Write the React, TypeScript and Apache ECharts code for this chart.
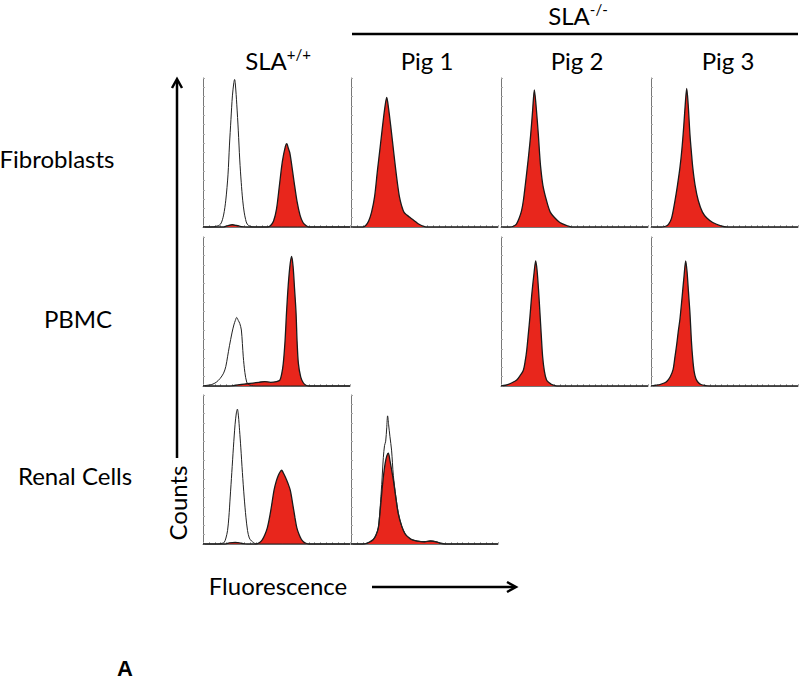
import React, { useEffect, useRef } from "react";
import * as echarts from "echarts";

// Row / column labels
const rowLabels = ["Fibroblasts", "PBMC", "Renal Cells"];
const colLabels = ["SLA+/+", "Pig 1", "Pig 2", "Pig 3"];
const groupLabel = "SLA-/-";
const yAxisTitle = "Counts";
const xAxisTitle = "Fluorescence";
const panelTag = "A";

// Histograms: [relative fluorescence channel (0-100), relative counts (0-100)]
const fibSlaIso = [[0,0],[5,0],[9,0.5],[12,2],[14,8],[15.5,18],[17,35],[18,55],[19,72],[20,88],[21,97],[21.5,99],[22,96],[23,82],[24,65],[25,45],[26,30],[27,18],[28,10],[29,5],[30,2],[32,0.5],[35,0],[100,0]];
const fibSlaStain = [[0,0],[14,0],[17,1],[20,1.5],[23,1],[26,0.3],[30,0],[44,0],[46,1],[48,4],[50,12],[52,28],[54,44],[56,54],[57,56],[58,53],[59,50],[60,44],[62,30],[64,17],[66,8],[68,3],[70,1],[72,0],[100,0]];
const fibPig1Stain = [[0,0],[8,0],[10,1],[12,4],[14,10],[16,20],[18,38],[20,55],[21.5,68],[23,80],[24.3,87],[25.5,80],[27,68],[28.5,55],[30,42],[31.5,30],[33,20],[34.5,14],[36,10],[38,8],[40,6.5],[42,5],[44,3.5],[46,2],[48,1],[51,0],[100,0]];
const fibPig2Stain = [[0,0],[6,0],[8.5,0.5],[10.5,2],[12.4,6],[14,11],[15.2,17.6],[16.5,28],[17.9,40],[19,50],[20.2,62],[21.5,78],[22.7,92],[23.8,82],[25.4,62],[26.2,50],[27,40],[28.5,28],[31,17.6],[33.5,10],[36.7,6],[40,3],[44.7,1],[48,0],[100,0]];
const fibPig3Stain = [[0,0],[7,0],[10,0.5],[12,2],[14,6],[16.3,17.6],[18,28],[19.7,40],[21,52],[22.3,68],[23.5,85],[24.3,93],[25.3,82],[26.5,62],[27.5,50],[28.4,40],[30,28],[32.2,17.6],[35,10],[38,6],[42,3],[47,1],[52,0],[100,0]];

const pbmcSlaIso = [[0,0],[3,0.5],[6,1],[9,2.5],[11.6,5],[14,8.6],[15.5,13],[16.7,19.6],[18,27],[19.7,35.6],[21,41],[22,44],[22.9,46],[24,44],[25,42],[26.1,37.6],[27.4,19.6],[28.5,9],[29.7,2.7],[31,1],[33,0.3],[36,0],[100,0]];
const pbmcSlaStain = [[0,0],[18,0],[22,0.5],[26,1],[30,1.5],[34,2],[38,2.5],[42,3],[46,2.5],[50,3],[52.3,4],[53.5,8],[54.6,15],[55.8,30],[56.8,49],[58,68],[59.3,82],[60.3,87],[61.3,80],[62.3,65],[63.3,49],[64,30],[64.9,15],[66.5,6],[68.3,2],[70,0.5],[72,0],[100,0]];
const pbmcPig2Stain = [[0,0],[3,0.5],[6,1.5],[9,3],[10.7,4],[13,7],[15.2,10.6],[16.5,17],[17.5,24],[18.6,35],[19.7,46.6],[21,62],[22.5,76],[23.6,84],[24.5,78],[25.5,65],[26.5,49],[27.4,34],[28.3,20],[29.5,10],[31,4],[33,2],[34.5,1],[38,0],[100,0]];
const pbmcPig3Stain = [[0,0],[3,0.5],[6,1],[9,2],[10.7,3],[13,6],[15,11],[16.3,19.6],[17.5,28],[18.6,37],[19.7,45],[21,58],[22.5,74],[23.6,84],[24.5,77],[25.5,63],[26.5,49],[27.5,30],[28.4,18],[29.3,10],[30.5,5],[32,2.5],[34,1],[37,0.3],[40,0],[100,0]];

const renalSlaIso = [[0,0],[10,0],[13,0.5],[14.4,1],[15.6,4],[16.7,9],[17.6,18],[18.5,31.5],[19.6,48],[20.7,65],[21.8,80],[22.7,88],[23.4,90.5],[24.1,86],[24.9,76],[25.7,65],[26.8,48],[28,31.5],[29.2,18],[30.3,9],[31.5,4],[33,2],[34.4,1],[36,0],[100,0]];
const renalSlaStain = [[0,0],[15,0],[18,0.8],[22,1],[26,0.5],[30,0],[36,0],[38.5,1],[40.4,3],[42,6],[43.8,11],[45.5,19],[47,28],[48.3,36],[49.8,42],[51.2,46],[52.5,48.5],[53.5,49.5],[54.5,48],[56,45],[57.7,41],[59.4,36],[61,27],[62.5,18],[63.8,11],[65.5,6],[67,3],[68.3,1.5],[70,0.5],[72,0],[100,0]];
const renalPig1Iso = [[0,0],[8,0],[10.7,0.5],[13,1.5],[15.2,3],[17,6],[18.6,11],[19.8,24],[20.9,40],[22,58],[22.8,66],[23.6,69],[24.3,78],[24.9,86],[25.6,80],[26.5,72],[27.6,63],[28.8,46],[30.5,32],[32.2,21],[34.5,12],[36.7,7],[39,4.5],[41.3,3],[45,2],[50,1.5],[54,2],[58,1.5],[61,0.5],[64,0],[100,0]];
const renalPig1Stain = [[0,0],[8,0],[10.7,0.5],[13,1.5],[15.2,3],[17,6],[18.6,11],[19.8,22],[20.9,34],[22,45],[23.2,54],[24.3,59],[25.4,61],[26.5,56],[27.6,50],[28.8,43],[30.5,31],[32.2,20],[34.5,12],[36.7,7],[39,4.5],[41.3,3],[45,2],[50,1.5],[54,2],[58,1.5],[61,0.5],[64,0],[100,0]];

type Panel = { row: number; col: number; stain: number[][]; iso?: number[][] };
const panels: Panel[] = [
  { row: 0, col: 0, stain: fibSlaStain, iso: fibSlaIso },
  { row: 0, col: 1, stain: fibPig1Stain },
  { row: 0, col: 2, stain: fibPig2Stain },
  { row: 0, col: 3, stain: fibPig3Stain },
  { row: 1, col: 0, stain: pbmcSlaStain, iso: pbmcSlaIso },
  { row: 1, col: 2, stain: pbmcPig2Stain },
  { row: 1, col: 3, stain: pbmcPig3Stain },
  { row: 2, col: 0, stain: renalSlaStain, iso: renalSlaIso },
  { row: 2, col: 1, stain: renalPig1Stain, iso: renalPig1Iso },
];

const COL_X = [203, 351, 501, 651];
const ROW_Y = [78, 237, 395];
const PW = 147;
const PH = 149;
const FONT = "Lato, 'Open Sans', sans-serif";
const FS = 24;
const RED = "#e8261c";

export default function App() {
  const ref = useRef<HTMLDivElement>(null);
  useEffect(() => {
    if (!ref.current) return;
    const chart = echarts.init(ref.current, undefined, { renderer: "svg" });
    const grids: any[] = [];
    const xAxes: any[] = [];
    const yAxes: any[] = [];
    const series: any[] = [];
    panels.forEach((p, i) => {
      grids.push({ left: COL_X[p.col], top: ROW_Y[p.row], width: PW, height: PH });
      xAxes.push({
        type: "value", gridIndex: i, min: 0, max: 100, interval: 4,
        axisLine: { show: true, lineStyle: { color: "#777", width: 1 } },
        axisTick: { show: true, inside: true, length: 2, lineStyle: { color: "#aaa" } },
        axisLabel: { show: false }, splitLine: { show: false },
      });
      yAxes.push({
        type: "value", gridIndex: i, min: 0, max: 100, interval: 6.25,
        axisLine: { show: true, lineStyle: { color: "#777", width: 1 } },
        axisTick: { show: true, inside: true, length: 2, lineStyle: { color: "#aaa" } },
        axisLabel: { show: false }, splitLine: { show: false },
      });
      series.push({
        type: "line", xAxisIndex: i, yAxisIndex: i, data: p.stain, symbol: "none",
        smooth: 0.3, lineStyle: { color: "#1a1a1a", width: 1.3 },
        areaStyle: { color: RED, opacity: 1 }, z: 2,
      });
      if (p.iso) {
        series.push({
          type: "line", xAxisIndex: i, yAxisIndex: i, data: p.iso, symbol: "none",
          smooth: 0.3, lineStyle: { color: "#222", width: 1 }, z: 3,
        });
      }
    });

    const supRich = {
      a: { fontSize: FS, fontFamily: FONT, fill: "#000", lineHeight: 28 },
      s: { fontSize: 15, fontFamily: FONT, fill: "#000", verticalAlign: "top", lineHeight: 28 },
    };
    const graphic: any[] = [];
    // column headers
    const colCenters = [278, 427, 577, 728];
    colLabels.forEach((c, i) => {
      const isSla = c.startsWith("SLA");
      graphic.push({
        type: "text", x: colCenters[i], y: 60,
        style: isSla
          ? { text: "{a|SLA}{s|" + c.slice(3) + "}", align: "center", verticalAlign: "middle", rich: supRich }
          : { text: c, fontSize: FS, fontFamily: FONT, fill: "#000", align: "center", verticalAlign: "middle" },
      });
    });
    graphic.push({
      type: "text", x: 578, y: 15,
      style: { text: "{a|SLA}{s|" + groupLabel.slice(3) + "}", align: "center", verticalAlign: "middle", rich: supRich },
    });
    graphic.push({ type: "line", shape: { x1: 352, y1: 34, x2: 798, y2: 34 }, style: { stroke: "#000", lineWidth: 2.5 } });
    // row labels
    const rowPos = [[57, 158], [78, 318], [75, 475]];
    rowLabels.forEach((r, i) => {
      graphic.push({
        type: "text", x: rowPos[i][0], y: rowPos[i][1],
        style: { text: r, fontSize: FS, fontFamily: FONT, fill: "#000", align: "center", verticalAlign: "middle" },
      });
    });
    // Counts arrow
    graphic.push({ type: "line", shape: { x1: 177, y1: 458, x2: 177, y2: 80 }, style: { stroke: "#000", lineWidth: 2.5 } });
    graphic.push({ type: "polyline", shape: { points: [[172, 88], [177, 79], [182, 88]] }, style: { stroke: "#000", lineWidth: 2.5, fill: "none" } });
    graphic.push({
      type: "text", x: 177, y: 503, rotation: Math.PI / 2,
      style: { text: yAxisTitle, fontSize: FS, fontFamily: FONT, fill: "#000", align: "center", verticalAlign: "middle" },
    });
    // Fluorescence arrow
    graphic.push({
      type: "text", x: 278, y: 585,
      style: { text: xAxisTitle, fontSize: FS, fontFamily: FONT, fill: "#000", align: "center", verticalAlign: "middle" },
    });
    graphic.push({ type: "line", shape: { x1: 372, y1: 587, x2: 514, y2: 587 }, style: { stroke: "#000", lineWidth: 2.5 } });
    graphic.push({ type: "polyline", shape: { points: [[507, 582], [516, 587], [507, 592]] }, style: { stroke: "#000", lineWidth: 2.5, fill: "none" } });
    // panel tag
    graphic.push({
      type: "text", x: 125, y: 668,
      style: { text: panelTag, fontSize: 22, fontWeight: "bold", fontFamily: "'Liberation Sans', Arial, sans-serif", fill: "#000", align: "center", verticalAlign: "middle" },
    });

    chart.setOption({
      animation: false,
      backgroundColor: "#fff",
      grid: grids,
      xAxis: xAxes,
      yAxis: yAxes,
      series,
      graphic,
    });
    return () => chart.dispose();
  }, []);
  return <div ref={ref} style={{ position: "fixed", left: 0, top: 0, width: 800, height: 682 }} />;
}
